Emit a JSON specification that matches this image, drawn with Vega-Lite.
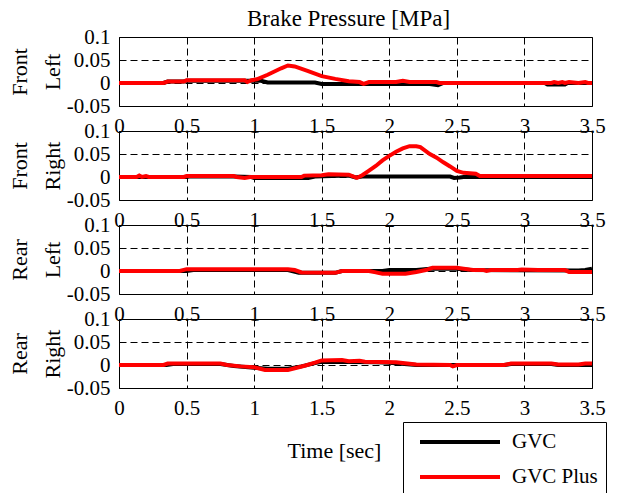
{
  "$schema": "https://vega.github.io/schema/vega-lite/v6.json",
  "background": "white",
  "padding": {"left": 7, "top": 7, "right": 0, "bottom": 0},
  "config": {
    "view": {"stroke": "black", "strokeWidth": 1},
    "axis": {
      "labelFont": "Liberation Serif", "labelFontSize": 21, "labelColor": "black",
      "titleFont": "Liberation Serif", "titleFontSize": 22, "titleFontWeight": "normal", "titleColor": "black",
      "domain": false, "ticks": false,
      "grid": true, "gridColor": "black", "gridDash": [7, 4], "gridWidth": 1, "gridOpacity": 1,
      "labelFlush": false, "labelOverlap": false
    },
    "legend": {
      "labelFont": "Liberation Serif", "labelFontSize": 21, "labelColor": "black"
    }
  },
  "datasets": {
    "d": [
      {"p":"FL","s":"GVC","t":0,"v":0},{"p":"FL","s":"GVC","t":0.33,"v":0},{"p":"FL","s":"GVC","t":0.36,"v":0.003},{"p":"FL","s":"GVC","t":0.48,"v":0.003},{"p":"FL","s":"GVC","t":0.5,"v":0.005},{"p":"FL","s":"GVC","t":1.05,"v":0.005},{"p":"FL","s":"GVC","t":1.1,"v":0.001},{"p":"FL","s":"GVC","t":1.45,"v":0.001},{"p":"FL","s":"GVC","t":1.5,"v":-0.002},{"p":"FL","s":"GVC","t":2.3,"v":-0.002},{"p":"FL","s":"GVC","t":2.36,"v":-0.005},{"p":"FL","s":"GVC","t":2.4,"v":0},{"p":"FL","s":"GVC","t":3.15,"v":0},{"p":"FL","s":"GVC","t":3.17,"v":-0.003},{"p":"FL","s":"GVC","t":3.3,"v":-0.003},{"p":"FL","s":"GVC","t":3.32,"v":0},{"p":"FL","s":"GVC","t":3.5,"v":0},
      {"p":"FL","s":"GVC Plus","t":0,"v":0},{"p":"FL","s":"GVC Plus","t":0.33,"v":0},{"p":"FL","s":"GVC Plus","t":0.36,"v":0.003},{"p":"FL","s":"GVC Plus","t":0.48,"v":0.003},{"p":"FL","s":"GVC Plus","t":0.5,"v":0.006},{"p":"FL","s":"GVC Plus","t":0.93,"v":0.006},{"p":"FL","s":"GVC Plus","t":0.95,"v":0.002},{"p":"FL","s":"GVC Plus","t":0.98,"v":0.006},{"p":"FL","s":"GVC Plus","t":1.02,"v":0.008},{"p":"FL","s":"GVC Plus","t":1.1,"v":0.018},{"p":"FL","s":"GVC Plus","t":1.2,"v":0.032},{"p":"FL","s":"GVC Plus","t":1.25,"v":0.038},{"p":"FL","s":"GVC Plus","t":1.3,"v":0.036},{"p":"FL","s":"GVC Plus","t":1.4,"v":0.026},{"p":"FL","s":"GVC Plus","t":1.5,"v":0.015},{"p":"FL","s":"GVC Plus","t":1.6,"v":0.009},{"p":"FL","s":"GVC Plus","t":1.7,"v":0.004},{"p":"FL","s":"GVC Plus","t":1.78,"v":0.002},{"p":"FL","s":"GVC Plus","t":1.81,"v":-0.002},{"p":"FL","s":"GVC Plus","t":1.85,"v":0.002},{"p":"FL","s":"GVC Plus","t":2.05,"v":0.002},{"p":"FL","s":"GVC Plus","t":2.1,"v":0.005},{"p":"FL","s":"GVC Plus","t":2.15,"v":0.002},{"p":"FL","s":"GVC Plus","t":2.35,"v":0.002},{"p":"FL","s":"GVC Plus","t":2.37,"v":0},{"p":"FL","s":"GVC Plus","t":3.2,"v":0},{"p":"FL","s":"GVC Plus","t":3.22,"v":0.002},{"p":"FL","s":"GVC Plus","t":3.25,"v":0},{"p":"FL","s":"GVC Plus","t":3.28,"v":0.002},{"p":"FL","s":"GVC Plus","t":3.3,"v":0},{"p":"FL","s":"GVC Plus","t":3.33,"v":0.002},{"p":"FL","s":"GVC Plus","t":3.4,"v":0},{"p":"FL","s":"GVC Plus","t":3.45,"v":0.002},{"p":"FL","s":"GVC Plus","t":3.47,"v":0},{"p":"FL","s":"GVC Plus","t":3.5,"v":0},

      {"p":"FR","s":"GVC","t":0,"v":0},{"p":"FR","s":"GVC","t":0.5,"v":0},{"p":"FR","s":"GVC","t":0.52,"v":0.001},{"p":"FR","s":"GVC","t":0.85,"v":0.001},{"p":"FR","s":"GVC","t":0.98,"v":0},{"p":"FR","s":"GVC","t":1.0,"v":-0.002},{"p":"FR","s":"GVC","t":1.4,"v":-0.002},{"p":"FR","s":"GVC","t":1.45,"v":0.001},{"p":"FR","s":"GVC","t":1.7,"v":0.003},{"p":"FR","s":"GVC","t":1.75,"v":-0.001},{"p":"FR","s":"GVC","t":1.8,"v":0.001},{"p":"FR","s":"GVC","t":2.45,"v":0.001},{"p":"FR","s":"GVC","t":2.48,"v":-0.002},{"p":"FR","s":"GVC","t":2.52,"v":-0.001},{"p":"FR","s":"GVC","t":2.55,"v":0},{"p":"FR","s":"GVC","t":3.5,"v":0},
      {"p":"FR","s":"GVC Plus","t":0,"v":0},{"p":"FR","s":"GVC Plus","t":0.13,"v":0},{"p":"FR","s":"GVC Plus","t":0.15,"v":0.003},{"p":"FR","s":"GVC Plus","t":0.17,"v":0},{"p":"FR","s":"GVC Plus","t":0.2,"v":0.002},{"p":"FR","s":"GVC Plus","t":0.22,"v":0},{"p":"FR","s":"GVC Plus","t":0.48,"v":0},{"p":"FR","s":"GVC Plus","t":0.5,"v":0.002},{"p":"FR","s":"GVC Plus","t":0.85,"v":0.002},{"p":"FR","s":"GVC Plus","t":0.87,"v":0},{"p":"FR","s":"GVC Plus","t":0.93,"v":-0.002},{"p":"FR","s":"GVC Plus","t":0.97,"v":0},{"p":"FR","s":"GVC Plus","t":1.35,"v":0},{"p":"FR","s":"GVC Plus","t":1.37,"v":0.003},{"p":"FR","s":"GVC Plus","t":1.5,"v":0.004},{"p":"FR","s":"GVC Plus","t":1.55,"v":0.006},{"p":"FR","s":"GVC Plus","t":1.7,"v":0.005},{"p":"FR","s":"GVC Plus","t":1.76,"v":-0.002},{"p":"FR","s":"GVC Plus","t":1.8,"v":0.004},{"p":"FR","s":"GVC Plus","t":1.85,"v":0.014},{"p":"FR","s":"GVC Plus","t":1.9,"v":0.024},{"p":"FR","s":"GVC Plus","t":1.95,"v":0.036},{"p":"FR","s":"GVC Plus","t":2.0,"v":0.046},{"p":"FR","s":"GVC Plus","t":2.05,"v":0.055},{"p":"FR","s":"GVC Plus","t":2.1,"v":0.062},{"p":"FR","s":"GVC Plus","t":2.15,"v":0.067},{"p":"FR","s":"GVC Plus","t":2.2,"v":0.067},{"p":"FR","s":"GVC Plus","t":2.23,"v":0.065},{"p":"FR","s":"GVC Plus","t":2.3,"v":0.05},{"p":"FR","s":"GVC Plus","t":2.35,"v":0.042},{"p":"FR","s":"GVC Plus","t":2.4,"v":0.032},{"p":"FR","s":"GVC Plus","t":2.45,"v":0.023},{"p":"FR","s":"GVC Plus","t":2.5,"v":0.013},{"p":"FR","s":"GVC Plus","t":2.55,"v":0.009},{"p":"FR","s":"GVC Plus","t":2.64,"v":0.007},{"p":"FR","s":"GVC Plus","t":2.67,"v":0.002},{"p":"FR","s":"GVC Plus","t":3.5,"v":0.002},

      {"p":"RL","s":"GVC","t":0,"v":0},{"p":"RL","s":"GVC","t":0.5,"v":0},{"p":"RL","s":"GVC","t":0.55,"v":0.002},{"p":"RL","s":"GVC","t":1.25,"v":0.002},{"p":"RL","s":"GVC","t":1.33,"v":-0.004},{"p":"RL","s":"GVC","t":1.6,"v":-0.004},{"p":"RL","s":"GVC","t":1.65,"v":0},{"p":"RL","s":"GVC","t":1.95,"v":0},{"p":"RL","s":"GVC","t":2.0,"v":0.002},{"p":"RL","s":"GVC","t":2.2,"v":0.002},{"p":"RL","s":"GVC","t":2.3,"v":0.005},{"p":"RL","s":"GVC","t":2.5,"v":0.005},{"p":"RL","s":"GVC","t":2.6,"v":0.002},{"p":"RL","s":"GVC","t":3.4,"v":0.001},{"p":"RL","s":"GVC","t":3.45,"v":0.002},{"p":"RL","s":"GVC","t":3.5,"v":0.005},
      {"p":"RL","s":"GVC Plus","t":0,"v":0},{"p":"RL","s":"GVC Plus","t":0.45,"v":0},{"p":"RL","s":"GVC Plus","t":0.5,"v":0.004},{"p":"RL","s":"GVC Plus","t":1.25,"v":0.004},{"p":"RL","s":"GVC Plus","t":1.3,"v":0.002},{"p":"RL","s":"GVC Plus","t":1.35,"v":-0.003},{"p":"RL","s":"GVC Plus","t":1.6,"v":-0.004},{"p":"RL","s":"GVC Plus","t":1.65,"v":0},{"p":"RL","s":"GVC Plus","t":1.85,"v":0},{"p":"RL","s":"GVC Plus","t":1.9,"v":-0.003},{"p":"RL","s":"GVC Plus","t":1.95,"v":-0.006},{"p":"RL","s":"GVC Plus","t":2.12,"v":-0.006},{"p":"RL","s":"GVC Plus","t":2.2,"v":-0.002},{"p":"RL","s":"GVC Plus","t":2.27,"v":0.002},{"p":"RL","s":"GVC Plus","t":2.32,"v":0.007},{"p":"RL","s":"GVC Plus","t":2.5,"v":0.007},{"p":"RL","s":"GVC Plus","t":2.55,"v":0.005},{"p":"RL","s":"GVC Plus","t":2.62,"v":0.002},{"p":"RL","s":"GVC Plus","t":2.7,"v":0.002},{"p":"RL","s":"GVC Plus","t":2.72,"v":0},{"p":"RL","s":"GVC Plus","t":2.75,"v":0.002},{"p":"RL","s":"GVC Plus","t":2.95,"v":0.002},{"p":"RL","s":"GVC Plus","t":2.98,"v":0.003},{"p":"RL","s":"GVC Plus","t":3.1,"v":0.002},{"p":"RL","s":"GVC Plus","t":3.3,"v":0.002},{"p":"RL","s":"GVC Plus","t":3.33,"v":-0.002},{"p":"RL","s":"GVC Plus","t":3.5,"v":-0.002},

      {"p":"RR","s":"GVC","t":0,"v":0},{"p":"RR","s":"GVC","t":0.35,"v":0},{"p":"RR","s":"GVC","t":0.4,"v":0.002},{"p":"RR","s":"GVC","t":0.75,"v":0.002},{"p":"RR","s":"GVC","t":0.85,"v":-0.002},{"p":"RR","s":"GVC","t":1.0,"v":-0.006},{"p":"RR","s":"GVC","t":1.1,"v":-0.008},{"p":"RR","s":"GVC","t":1.25,"v":-0.008},{"p":"RR","s":"GVC","t":1.35,"v":-0.003},{"p":"RR","s":"GVC","t":1.45,"v":0.004},{"p":"RR","s":"GVC","t":1.5,"v":0.007},{"p":"RR","s":"GVC","t":1.9,"v":0.006},{"p":"RR","s":"GVC","t":2.0,"v":0.005},{"p":"RR","s":"GVC","t":2.2,"v":0},{"p":"RR","s":"GVC","t":2.85,"v":0},{"p":"RR","s":"GVC","t":2.9,"v":0.002},{"p":"RR","s":"GVC","t":3.2,"v":0.002},{"p":"RR","s":"GVC","t":3.25,"v":0},{"p":"RR","s":"GVC","t":3.5,"v":0},
      {"p":"RR","s":"GVC Plus","t":0,"v":0},{"p":"RR","s":"GVC Plus","t":0.33,"v":0},{"p":"RR","s":"GVC Plus","t":0.36,"v":0.003},{"p":"RR","s":"GVC Plus","t":0.75,"v":0.003},{"p":"RR","s":"GVC Plus","t":0.8,"v":0},{"p":"RR","s":"GVC Plus","t":0.9,"v":-0.003},{"p":"RR","s":"GVC Plus","t":1.0,"v":-0.005},{"p":"RR","s":"GVC Plus","t":1.08,"v":-0.011},{"p":"RR","s":"GVC Plus","t":1.25,"v":-0.011},{"p":"RR","s":"GVC Plus","t":1.3,"v":-0.007},{"p":"RR","s":"GVC Plus","t":1.38,"v":-0.001},{"p":"RR","s":"GVC Plus","t":1.45,"v":0.005},{"p":"RR","s":"GVC Plus","t":1.5,"v":0.01},{"p":"RR","s":"GVC Plus","t":1.65,"v":0.011},{"p":"RR","s":"GVC Plus","t":1.7,"v":0.008},{"p":"RR","s":"GVC Plus","t":1.78,"v":0.009},{"p":"RR","s":"GVC Plus","t":1.82,"v":0.007},{"p":"RR","s":"GVC Plus","t":2.05,"v":0.006},{"p":"RR","s":"GVC Plus","t":2.2,"v":0.001},{"p":"RR","s":"GVC Plus","t":2.45,"v":0},{"p":"RR","s":"GVC Plus","t":2.47,"v":-0.003},{"p":"RR","s":"GVC Plus","t":2.5,"v":0},{"p":"RR","s":"GVC Plus","t":2.85,"v":0},{"p":"RR","s":"GVC Plus","t":2.9,"v":0.003},{"p":"RR","s":"GVC Plus","t":3.2,"v":0.003},{"p":"RR","s":"GVC Plus","t":3.25,"v":0.001},{"p":"RR","s":"GVC Plus","t":3.4,"v":0.001},{"p":"RR","s":"GVC Plus","t":3.45,"v":0.003},{"p":"RR","s":"GVC Plus","t":3.5,"v":0.003}
    ]
  },
  "spacing": 25,
  "bounds": "flush",
  "vconcat": [
    {
      "width": 473, "height": 69,
      "title": {"text": "Brake Pressure [MPa]", "font": "Liberation Serif", "fontSize": 23, "fontWeight": "normal", "color": "black", "anchor": "middle", "frame": "group", "offset": -5, "dx": -7},
      "data": {"name": "d"},
      "transform": [{"filter": "datum.p == 'FL'"}],
      "mark": {"type": "line", "strokeWidth": 4},
      "encoding": {
        "x": {"field": "t", "type": "quantitative", "scale": {"domain": [0, 3.5], "nice": false}, "axis": {"values": [0, 0.5, 1, 1.5, 2, 2.5, 3, 3.5], "format": "~g", "title": null, "labelPadding": 9, "labelFont": "Liberation Serif", "labelFontSize": 21}},
        "y": {"field": "v", "type": "quantitative", "scale": {"domain": [-0.05, 0.1], "nice": false, "zero": false}, "axis": {"values": [-0.05, 0, 0.05, 0.1], "labelExpr": "datum.value < 0 ? '-0.05' : format(datum.value, '~g')", "labelFont": "Liberation Serif", "labelFontSize": 21, "title": ["Front", "Left"], "titleFont": "Liberation Serif", "titleFontSize": 22, "titleFontWeight": "normal", "labelPadding": 9, "titlePadding": 2, "titleLineHeight": 33}},
        "color": {"field": "s", "type": "nominal", "scale": {"domain": ["GVC", "GVC Plus"], "range": ["#000000", "#ff0000"]}, "legend": {"title": null, "orient": "none", "legendX": 284, "legendY": 385, "strokeColor": "black", "padding": 8, "symbolType": "M -4 0 L 4 0", "symbolSize": 400, "symbolStrokeWidth": 4, "symbolOffset": 37, "labelOffset": 40, "rowPadding": 13, "labelFont": "Liberation Serif", "labelFontSize": 21}}
      }
    },
    {
      "width": 473, "height": 69,
      "data": {"name": "d"},
      "transform": [{"filter": "datum.p == 'FR'"}],
      "mark": {"type": "line", "strokeWidth": 4},
      "encoding": {
        "x": {"field": "t", "type": "quantitative", "scale": {"domain": [0, 3.5], "nice": false}, "axis": {"values": [0, 0.5, 1, 1.5, 2, 2.5, 3, 3.5], "format": "~g", "title": null, "labelPadding": 9, "labelFont": "Liberation Serif", "labelFontSize": 21}},
        "y": {"field": "v", "type": "quantitative", "scale": {"domain": [-0.05, 0.1], "nice": false, "zero": false}, "axis": {"values": [-0.05, 0, 0.05, 0.1], "labelExpr": "datum.value < 0 ? '-0.05' : format(datum.value, '~g')", "labelFont": "Liberation Serif", "labelFontSize": 21, "title": ["Front", "Right"], "titleFont": "Liberation Serif", "titleFontSize": 22, "titleFontWeight": "normal", "labelPadding": 9, "titlePadding": 2, "titleLineHeight": 33}},
        "color": {"field": "s", "type": "nominal", "scale": {"domain": ["GVC", "GVC Plus"], "range": ["#000000", "#ff0000"]}}
      }
    },
    {
      "width": 473, "height": 69,
      "data": {"name": "d"},
      "transform": [{"filter": "datum.p == 'RL'"}],
      "mark": {"type": "line", "strokeWidth": 4},
      "encoding": {
        "x": {"field": "t", "type": "quantitative", "scale": {"domain": [0, 3.5], "nice": false}, "axis": {"values": [0, 0.5, 1, 1.5, 2, 2.5, 3, 3.5], "format": "~g", "title": null, "labelPadding": 9, "labelFont": "Liberation Serif", "labelFontSize": 21}},
        "y": {"field": "v", "type": "quantitative", "scale": {"domain": [-0.05, 0.1], "nice": false, "zero": false}, "axis": {"values": [-0.05, 0, 0.05, 0.1], "labelExpr": "datum.value < 0 ? '-0.05' : format(datum.value, '~g')", "labelFont": "Liberation Serif", "labelFontSize": 21, "title": ["Rear", "Left"], "titleFont": "Liberation Serif", "titleFontSize": 22, "titleFontWeight": "normal", "labelPadding": 9, "titlePadding": 2, "titleLineHeight": 33}},
        "color": {"field": "s", "type": "nominal", "scale": {"domain": ["GVC", "GVC Plus"], "range": ["#000000", "#ff0000"]}}
      }
    },
    {
      "width": 473, "height": 69,
      "data": {"name": "d"},
      "transform": [{"filter": "datum.p == 'RR'"}],
      "mark": {"type": "line", "strokeWidth": 4},
      "encoding": {
        "x": {"field": "t", "type": "quantitative", "scale": {"domain": [0, 3.5], "nice": false}, "axis": {"values": [0, 0.5, 1, 1.5, 2, 2.5, 3, 3.5], "format": "~g", "title": "Time [sec]", "titleFont": "Liberation Serif", "titleFontSize": 22, "titleFontWeight": "normal", "titleX": 215, "titleY": 62, "titleBaseline": "middle", "titleAlign": "center", "labelPadding": 9, "labelFont": "Liberation Serif", "labelFontSize": 21}},
        "y": {"field": "v", "type": "quantitative", "scale": {"domain": [-0.05, 0.1], "nice": false, "zero": false}, "axis": {"values": [-0.05, 0, 0.05, 0.1], "labelExpr": "datum.value < 0 ? '-0.05' : format(datum.value, '~g')", "labelFont": "Liberation Serif", "labelFontSize": 21, "title": ["Rear", "Right"], "titleFont": "Liberation Serif", "titleFontSize": 22, "titleFontWeight": "normal", "labelPadding": 9, "titlePadding": 2, "titleLineHeight": 33}},
        "color": {"field": "s", "type": "nominal", "scale": {"domain": ["GVC", "GVC Plus"], "range": ["#000000", "#ff0000"]}}
      }
    }
  ]
}
